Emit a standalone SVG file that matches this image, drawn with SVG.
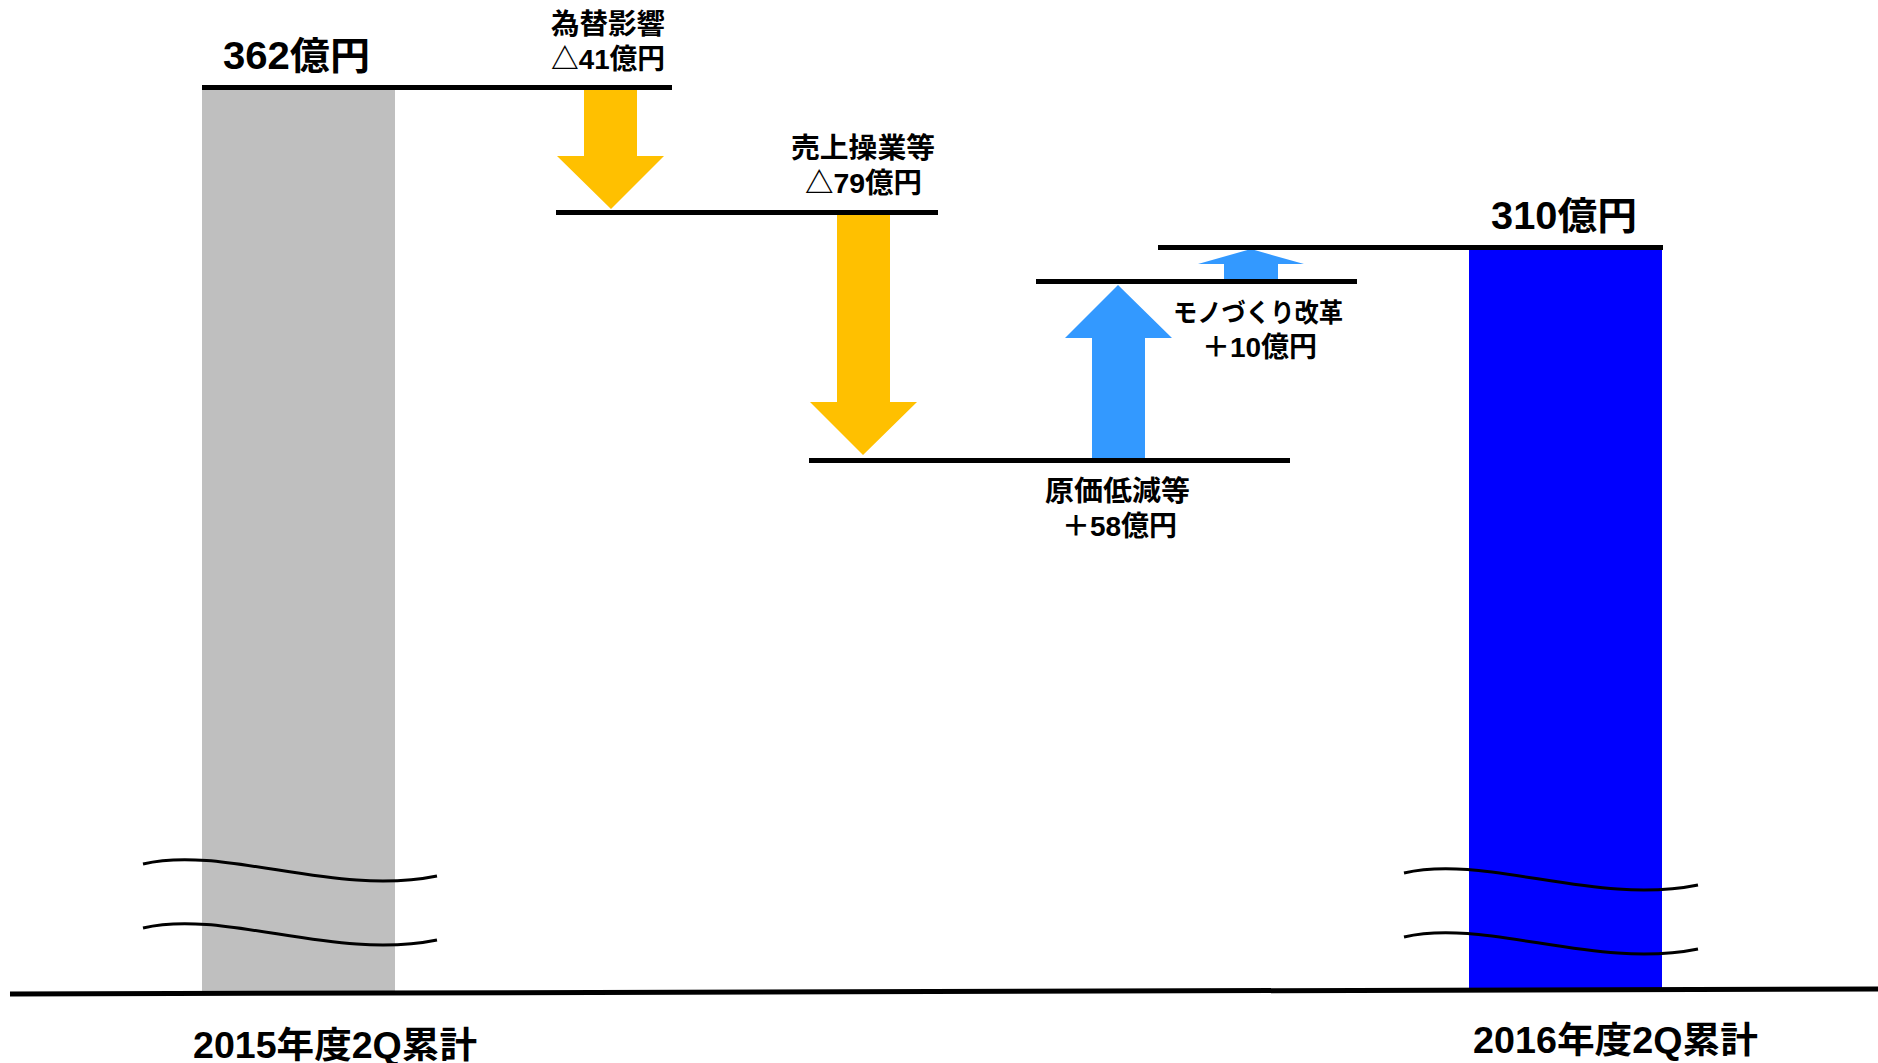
<svg xmlns="http://www.w3.org/2000/svg" width="1878" height="1063" viewBox="0 0 1878 1063">
<defs>
<style>
.lbl{font-family:"Liberation Sans","Noto Sans CJK JP",sans-serif;font-weight:bold;fill:#000;}
.big{font-size:38px;}
.mid{font-size:28px;}
.sm{font-size:26px;}
.cat{font-size:36px;}
.lvl{stroke:#000;stroke-width:5;fill:none;}
.wave{stroke:#000;stroke-width:3;fill:none;}
.down{fill:#FFC000;}
.up{fill:#3399FF;}
</style>
<path id="wv" d="M143,864 C225,845 335,897 437,876"/>
</defs>
<rect width="1878" height="1063" fill="#fff"/>

<g id="bar2015">
<rect x="202" y="87" width="193" height="907" fill="#BFBFBF"/>
<text class="lbl big" x="223" y="69" textLength="147" lengthAdjust="spacingAndGlyphs">362億円</text>
</g>

<g id="bar2016">
<rect x="1469" y="247" width="193" height="742" fill="#0000FF"/>
<text class="lbl big" x="1491" y="229" textLength="146" lengthAdjust="spacingAndGlyphs">310億円</text>
</g>

<g id="fx">
<polygon class="down" points="584,90 637,90 637,156 664,156 611,209 557,156 584,156"/>
<text class="lbl mid" x="551" y="34" textLength="114" lengthAdjust="spacingAndGlyphs">為替影響</text>
<text class="lbl mid" x="551" y="69" textLength="114" lengthAdjust="spacingAndGlyphs">△41億円</text>
</g>

<g id="sales">
<polygon class="down" points="837,215 890,215 890,402 917,402 863,455 810,402 837,402"/>
<text class="lbl mid" x="791" y="158" textLength="144" lengthAdjust="spacingAndGlyphs">売上操業等</text>
<text class="lbl mid" x="805" y="193" textLength="117" lengthAdjust="spacingAndGlyphs">△79億円</text>
</g>

<g id="cost">
<polygon class="up" points="1092,458 1145,458 1145,338 1172,338 1118,285 1065,338 1092,338"/>
<text class="lbl mid" x="1045" y="501" textLength="145" lengthAdjust="spacingAndGlyphs">原価低減等</text>
<text class="lbl mid" x="1062" y="536" textLength="115" lengthAdjust="spacingAndGlyphs">＋58億円</text>
</g>

<g id="monozukuri">
<polygon class="up" points="1224,279 1278,279 1278,264 1304,264 1251,249 1198,264 1224,264"/>
<text class="lbl sm" x="1173" y="322" textLength="170" lengthAdjust="spacingAndGlyphs">モノづくり改革</text>
<text class="lbl mid" x="1202" y="357" textLength="115" lengthAdjust="spacingAndGlyphs">＋10億円</text>
</g>

<g id="connectors">
<line class="lvl" x1="202" y1="87.5" x2="672" y2="87.5"/>
<line class="lvl" x1="556" y1="212.5" x2="938" y2="212.5"/>
<line class="lvl" x1="809" y1="460.5" x2="1290" y2="460.5"/>
<line class="lvl" x1="1036" y1="281.5" x2="1357" y2="281.5"/>
<line class="lvl" x1="1158" y1="247.5" x2="1663" y2="247.5"/>
<line class="lvl" x1="10" y1="994" x2="1878" y2="989"/>
</g>

<g id="breaks">
<use href="#wv" class="wave"/>
<use href="#wv" class="wave" transform="translate(0,64)"/>
<use href="#wv" class="wave" transform="translate(1261,9)"/>
<use href="#wv" class="wave" transform="translate(1261,73)"/>
</g>

<g id="axisLabels">
<text class="lbl cat" x="193" y="1058" textLength="284" lengthAdjust="spacingAndGlyphs">2015年度2Q累計</text>
<text class="lbl cat" x="1473" y="1053" textLength="285" lengthAdjust="spacingAndGlyphs">2016年度2Q累計</text>
</g>
</svg>
